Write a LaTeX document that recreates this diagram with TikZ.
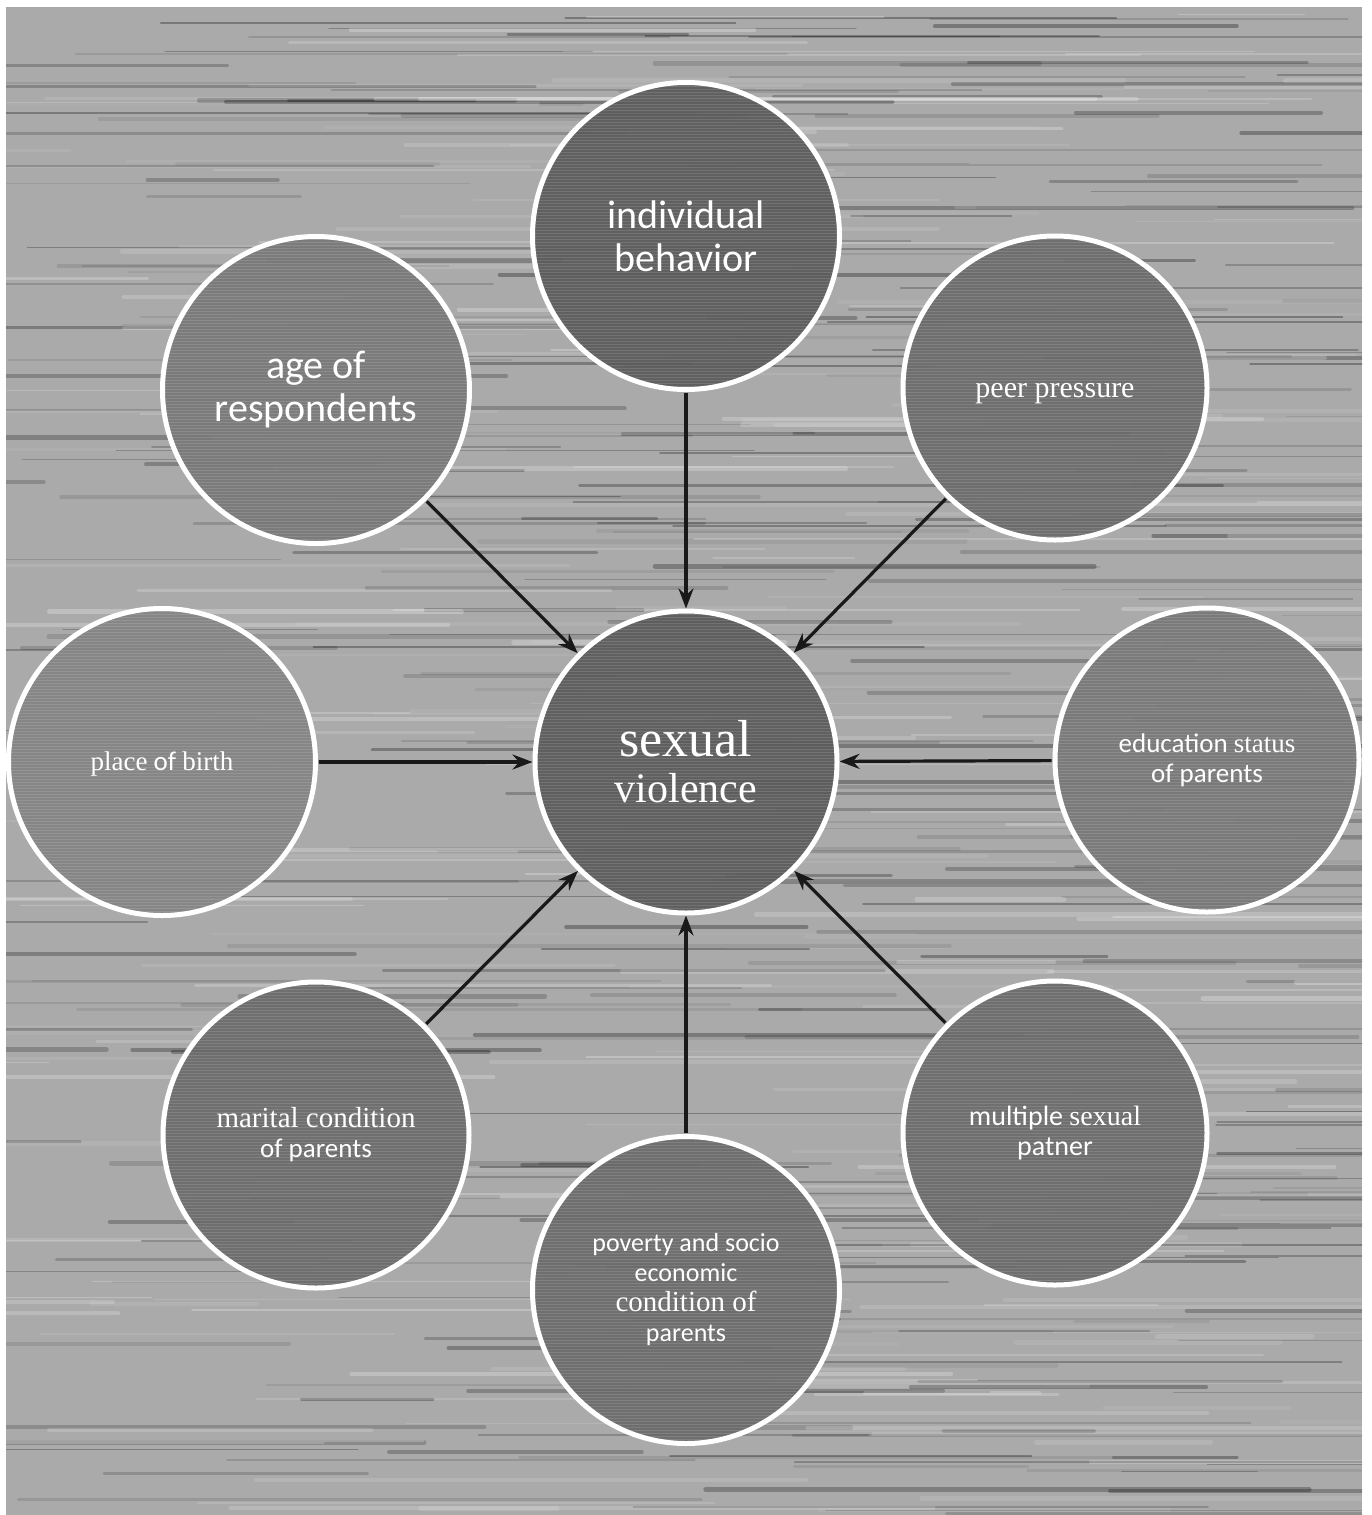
\documentclass[tikz,border=0pt]{standalone}
\usepackage{fontspec}
\setmainfont{Carlito}
\newfontfamily\serfont{Liberation Serif}
\usetikzlibrary{arrows.meta,patterns}
\definecolor{bgc}{RGB}{170,170,170}
\definecolor{cdark}{RGB}{90,90,90}
\definecolor{cmid}{RGB}{106,106,106}
\definecolor{clight}{RGB}{120,120,120}
\definecolor{cpale}{RGB}{132,132,132}
\begin{document}
\begin{tikzpicture}[x=1pt,y=-1pt,
  bubble/.style={circle, draw=white, line width=5pt, minimum size=#1, inner sep=0pt,
    text=white, align=center, fill opacity=0.92, text opacity=1,
    path picture={\fill[pattern=horizontal lines, pattern color=white, opacity=0.12]
      (path picture bounding box.south west) rectangle (path picture bounding box.north east);}},
  arr/.style={-{Stealth[length=20pt,width=15pt]}, line width=3.2pt, draw=black!90, shorten <=1pt}
]
\useasboundingbox (0,0) rectangle (1372,1515);
\fill[white] (0,0) rectangle (1372,1515);
\begin{scope}
  \clip (6,7) rectangle (1362,1515);
  \fill[bgc] (6,7) rectangle (1362,1515);
  \pgfmathsetseed{12}
  \foreach \k in {1,...,320}{
    \pgfmathsetmacro{\yy}{7+1508*rnd}
    \pgfmathsetmacro{\xx}{-150+1450*rnd}
    \pgfmathsetmacro{\ll}{120+620*rnd}
    \pgfmathsetmacro{\ww}{1+3.5*rnd}
    \pgfmathsetmacro{\oo}{0.05+0.25*rnd}
    \draw[line width=\ww pt, draw=black, draw opacity=\oo, line cap=round] (\xx,\yy) -- ++(\ll,0);
  }
  \foreach \k in {1,...,220}{
    \pgfmathsetmacro{\yy}{7+1508*rnd}
    \pgfmathsetmacro{\xx}{-150+1450*rnd}
    \pgfmathsetmacro{\ll}{120+620*rnd}
    \pgfmathsetmacro{\ww}{1+4*rnd}
    \pgfmathsetmacro{\oo}{0.05+0.2*rnd}
    \draw[line width=\ww pt, draw=white, draw opacity=\oo, line cap=round] (\xx,\yy) -- ++(\ll,0);
  }
\end{scope}

\node[bubble=302, fill=cdark, font=\serfont\fontsize{42}{46}\selectfont] (sv) at (686,762)
  {{\fontsize{52}{46}\selectfont sexual}\\violence};
\node[bubble=307, fill=cdark, font=\fontsize{40}{43}\selectfont] (ib) at (686,236)
  {individual\\behavior};
\node[bubble=307, fill=clight, font=\fontsize{40}{43}\selectfont] (age) at (316,390)
  {age of\\respondents};
\node[bubble=304, fill=cmid, font=\serfont\fontsize{30}{32}\selectfont,
  text height=24pt, text depth=6pt] (peer) at (1055,388)
  {peer pressure};
\node[bubble=307, fill=cpale, font=\fontsize{27}{30}\selectfont,
  text height=20pt, text depth=4pt] (pob) at (162,762)
  {{\serfont place} of {\serfont birth}};
\node[bubble=304, fill=clight, font=\fontsize{27}{30}\selectfont] (edu) at (1207,760)
  {education {\serfont status}\\of parents};
\node[bubble=306, fill=cmid, font=\fontsize{27}{30}\selectfont] (mar) at (316,1135)
  {{\serfont\fontsize{29}{30}\selectfont marital condition}\\of parents};
\node[bubble=307, fill=cmid, font=\fontsize{26}{30}\selectfont] (pov) at (686,1290)
  {poverty and socio\\economic\\{\serfont\fontsize{29}{32}\selectfont condition of}\\parents};
\node[bubble=304, fill=cmid, font=\fontsize{28}{30}\selectfont] (mul) at (1055,1133)
  {multiple {\serfont sexual}\\patner};

\draw[arr] (ib) -- (sv);
\draw[arr] (age) -- (sv);
\draw[arr] (peer) -- (sv);
\draw[arr] (pob) -- (sv);
\draw[arr] (edu) -- (sv);
\draw[arr] (mar) -- (sv);
\draw[arr] (pov) -- (sv);
\draw[arr] (mul) -- (sv);
\end{tikzpicture}
\end{document}
